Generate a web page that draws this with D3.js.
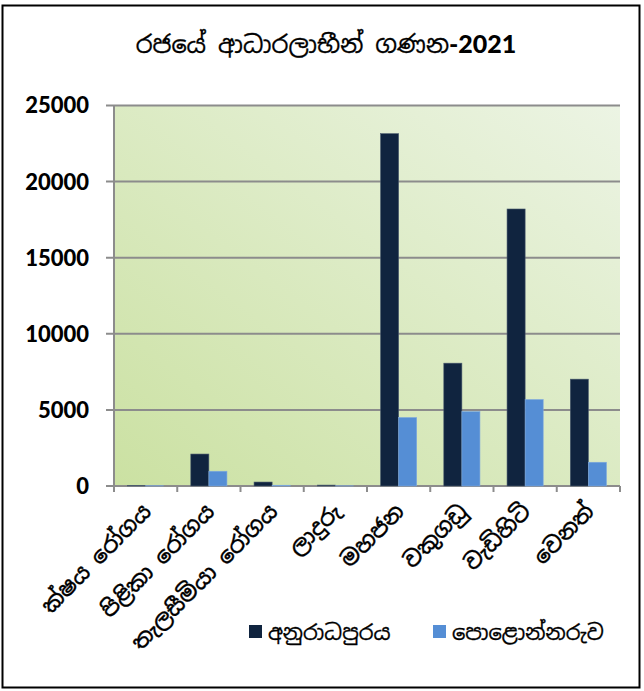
<!DOCTYPE html>
<html><head><meta charset="utf-8">
<script src="https://cdn.jsdelivr.net/npm/d3@7"></script>
<style>
html,body{margin:0;padding:0;background:#fff;}
svg{display:block;}
.sin{font-family:"Noto Sans Sinhala","Iskoola Pota","Noto Serif Sinhala","Noto Sans",sans-serif;}
</style></head>
<body>
<script>
const categories = ["ක්ෂය රෝගය","පිළිකා රෝගය","තැලසීමියා රෝගය","ලාදුරු","මහජන","වකුගඩු","වැඩිහිටි","වෙනත්"];
const seriesNames = ["අනුරාධපුරය","පොළොන්නරුව"];
const anuradhapura = [20, 2100, 260, 60, 23150, 8070, 18200, 7020];
const polonnaruwa = [15, 970, 50, 10, 4500, 4890, 5680, 1560];
const yTicks = [0,5000,10000,15000,20000,25000];
const colors = ["#10243f","#558ed5"];
const titleText = "රජයේ ආධාරලාභීන් ගණන";
const titleYear = "-2021";

const W=644,H=691;
const svg=d3.select("body").append("svg").attr("width",W).attr("height",H);
const defs=svg.append("defs");
const grad=defs.append("linearGradient").attr("id","bg").attr("x1","0%").attr("y1","100%").attr("x2","100%").attr("y2","0%");
grad.append("stop").attr("offset","0%").attr("stop-color","#cbe1a2");
grad.append("stop").attr("offset","100%").attr("stop-color","#ecf4e4");

svg.append("rect").attr("x",2.5).attr("y",5.5).attr("width",637).attr("height",682).attr("fill","#fff").attr("stroke","#000").attr("stroke-width",2);

const m={l:114,r:620,t:105.5,b:486};
const x=d3.scaleBand().domain(categories).range([m.l,m.r]);
const y=d3.scaleLinear().domain([0,25000]).range([m.b,m.t]);
const bw=x.bandwidth()/3.5;

svg.append("rect").attr("x",m.l).attr("y",m.t).attr("width",m.r-m.l).attr("height",m.b-m.t).attr("fill","url(#bg)");

// gridlines
svg.append("g").selectAll("line").data(yTicks).join("line")
 .attr("x1",m.l-8).attr("x2",m.r).attr("y1",d=>y(d)).attr("y2",d=>y(d))
 .attr("stroke","#8c8c8c").attr("stroke-width",2);

// y axis line
svg.append("line").attr("x1",m.l).attr("x2",m.l).attr("y1",m.t).attr("y2",m.b+6).attr("stroke","#8c8c8c").attr("stroke-width",2);

// x ticks
const tickPos=categories.map(c=>x(c)).concat([m.r]);
svg.append("g").selectAll("line").data(tickPos).join("line")
 .attr("x1",d=>d).attr("x2",d=>d).attr("y1",m.b).attr("y2",m.b+6).attr("stroke","#8c8c8c").attr("stroke-width",2);

// bars
const series=[anuradhapura,polonnaruwa];
series.forEach((vals,si)=>{
 svg.append("g").selectAll("rect").data(vals).join("rect")
  .attr("x",(d,i)=>x(categories[i])+x.bandwidth()*0.2143+si*bw)
  .attr("y",d=>y(d)).attr("width",bw).attr("height",d=>y(0)-y(d))
  .attr("fill",colors[si]).attr("stroke",si?"#7fa9de":"#4a5a6e").attr("stroke-width",0.6);
});

// y labels
svg.append("g").selectAll("text").data(yTicks).join("text")
 .attr("x",89).attr("y",d=>y(d)).attr("dy","0.36em").attr("text-anchor","end")
 .attr("font-family","Lato, 'Open Sans', sans-serif").attr("font-weight","900").attr("font-size",22)
 .text(d=>d);

// x labels
svg.append("g").selectAll("text").data(categories).join("text").attr("class","sin")
 .attr("transform",c=>`translate(${x(c)+x.bandwidth()/2+7},${m.b+27}) rotate(-45)`)
 .attr("text-anchor","end").attr("font-size",22).attr("font-weight",500)
 .attr("stroke","#000").attr("stroke-width",0.3).text(c=>c);

// title
const t=svg.append("text").attr("class","sin").attr("x",326).attr("y",53).attr("text-anchor","middle").attr("font-size",24);
t.append("tspan").attr("stroke","#000").attr("stroke-width",0.3).text(titleText);
t.append("tspan").attr("font-family","Lato, sans-serif").attr("font-weight","900").attr("font-size",25).text(titleYear);

// legend
const lx=[249,433];
seriesNames.forEach((n,i)=>{
 svg.append("rect").attr("x",lx[i]).attr("y",625).attr("width",13).attr("height",13).attr("fill",colors[i]);
 svg.append("text").attr("class","sin").attr("x",lx[i]+19).attr("y",640).attr("font-size",21)
  .attr("stroke","#000").attr("stroke-width",0.3).text(n);
});
</script>
</body></html>
